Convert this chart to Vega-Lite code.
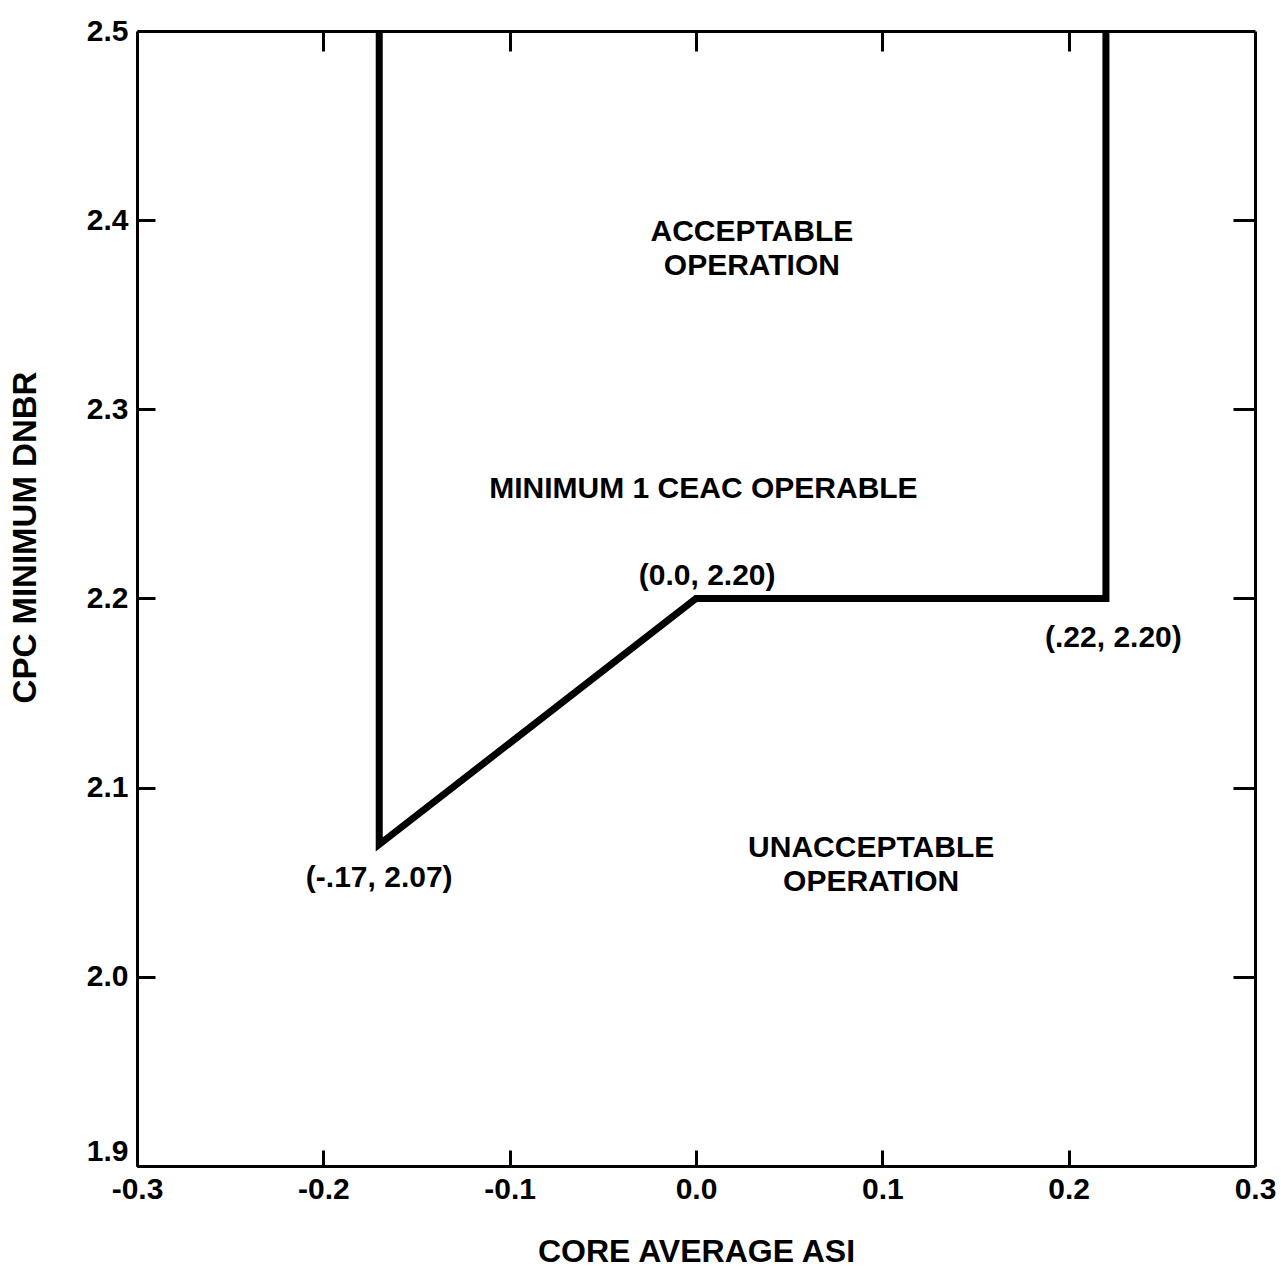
{
  "$schema": "https://vega.github.io/schema/vega-lite/v6.json",
  "width": 1118,
  "height": 1135,
  "autosize": {"type": "none"},
  "padding": {"left": 137, "top": 31, "right": 26, "bottom": 104},
  "background": "white",
  "config": {
    "view": {"stroke": null},
    "axis": {
      "grid": false,
      "domainColor": "black",
      "domainWidth": 3,
      "tickColor": "black",
      "tickWidth": 3,
      "labelFont": "Liberation Sans",
      "labelFontWeight": "bold",
      "labelFontSize": 30,
      "labelColor": "black",
      "titleFont": "Liberation Sans",
      "titleFontWeight": "bold",
      "titleFontSize": 32,
      "titleColor": "black",
      "labelFlush": false,
      "labelOverlap": false
    }
  },
  "datasets": {
    "boundary": [
      {"asi": -0.17, "dnbr": 2.5, "order": 1},
      {"asi": -0.17, "dnbr": 2.07, "order": 2},
      {"asi": 0.0, "dnbr": 2.2, "order": 3},
      {"asi": 0.22, "dnbr": 2.2, "order": 4},
      {"asi": 0.22, "dnbr": 2.5, "order": 5}
    ],
    "regions": [
      {"asi": 0.03, "dnbr": 2.394, "label": "ACCEPTABLE\nOPERATION"},
      {"asi": 0.004, "dnbr": 2.258, "label": "MINIMUM 1 CEAC OPERABLE"},
      {"asi": 0.094, "dnbr": 2.068, "label": "UNACCEPTABLE\nOPERATION"}
    ],
    "points": [
      {"asi": 0.006, "dnbr": 2.212, "label": "(0.0, 2.20)"},
      {"asi": 0.224, "dnbr": 2.179, "label": "(.22, 2.20)"},
      {"asi": -0.17, "dnbr": 2.052, "label": "(-.17, 2.07)"}
    ]
  },
  "resolve": {"scale": {"x": "independent", "y": "independent"}},
  "layer": [
    {
      "encoding": {
        "x": {
          "field": "asi",
          "type": "quantitative",
          "scale": {"domain": [-0.3, 0.3], "nice": false, "zero": false},
          "axis": {
            "orient": "bottom",
            "title": "CORE AVERAGE ASI",
            "values": [-0.3, -0.2, -0.1, 0, 0.1, 0.2, 0.3],
            "labelExpr": "replace(format(datum.value, '.1f'), '\u2212', '-')",
            "tickSize": -16,
            "labelPadding": 24,
            "titlePadding": 32
          }
        },
        "y": {
          "field": "dnbr",
          "type": "quantitative",
          "scale": {"domain": [1.9, 2.5], "nice": false, "zero": false},
          "axis": {
            "orient": "left",
            "title": "CPC MINIMUM DNBR",
            "titleFontSize": 33,
            "titleY": 506,
            "values": [1.9, 2.0, 2.1, 2.2, 2.3, 2.4, 2.5],
            "format": ".1f",
            "labelBaseline": {"condition": {"test": "datum.value < 1.95", "value": "bottom"}, "value": "middle"},
            "tickSize": -18,
            "labelPadding": 27,
            "titlePadding": 44
          }
        }
      },
      "layer": [
        {
          "data": {"name": "boundary"},
          "mark": {"type": "line", "color": "black", "strokeWidth": 7, "strokeJoin": "miter"},
          "encoding": {"order": {"field": "order", "type": "quantitative"}}
        },
        {
          "data": {"name": "regions"},
          "mark": {"type": "text", "font": "Liberation Sans", "fontWeight": "bold", "fontSize": 30, "lineBreak": "\n", "lineHeight": 34, "baseline": "middle", "align": "center", "color": "black"},
          "encoding": {"text": {"field": "label"}}
        },
        {
          "data": {"name": "points"},
          "mark": {"type": "text", "font": "Liberation Sans", "fontWeight": "bold", "fontSize": 30, "baseline": "middle", "align": "center", "color": "black"},
          "encoding": {"text": {"field": "label"}}
        }
      ]
    },
    {
      "data": {"name": "boundary"},
      "mark": {"type": "point", "opacity": 0},
      "encoding": {
        "x": {
          "field": "asi",
          "type": "quantitative",
          "scale": {"domain": [-0.3, 0.3], "nice": false, "zero": false},
          "axis": {"orient": "top", "title": null, "labels": false, "values": [-0.2, -0.1, 0, 0.1, 0.2], "tickSize": -20}
        },
        "y": {
          "field": "dnbr",
          "type": "quantitative",
          "scale": {"domain": [1.9, 2.5], "nice": false, "zero": false},
          "axis": {"orient": "right", "title": null, "labels": false, "values": [2.0, 2.1, 2.2, 2.3, 2.4], "tickSize": -22}
        }
      }
    }
  ]
}
